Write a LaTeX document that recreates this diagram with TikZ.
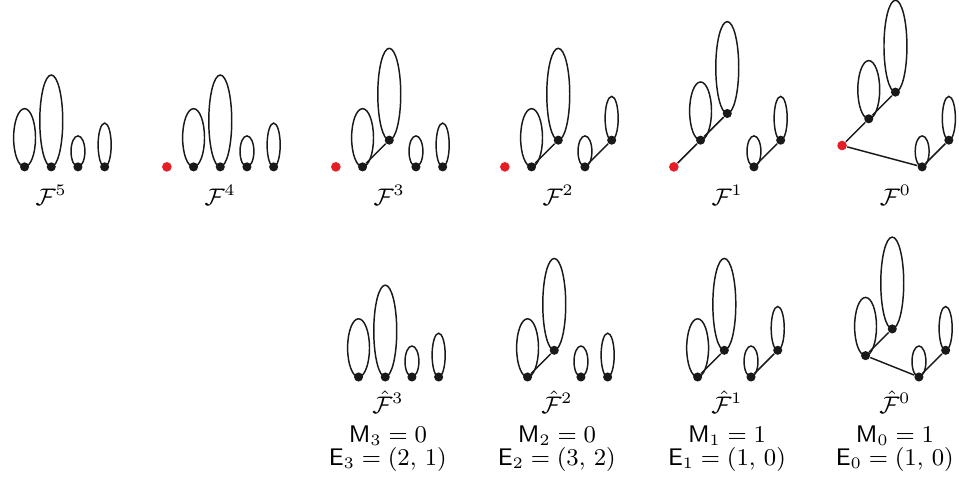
\documentclass[tikz,border=0pt]{standalone}
\usepackage{amsmath,amssymb}
\usetikzlibrary{positioning}
\definecolor{rootred}{RGB}{228,30,36}
\definecolor{vtxblack}{RGB}{25,25,25}
% four roots with their loops, #1 name, (#2,#3) origin, #4--#7 heights of the roots
\newcommand{\fourloops}[7]{%
  \node[bdot] (#1-1) at (#2+1,#3+#4) {};
  \node[bdot] (#1-2) at (#2+2,#3+#5) {};
  \node[bdot] (#1-3) at (#2+3,#3+#6) {};
  \node[bdot] (#1-4) at (#2+4,#3+#7) {};
  \draw[loopline] (#1-1.center) ++(0,1.09) ellipse (0.41 and 1.09);
  \draw[loopline] (#1-2.center) ++(0,1.72) ellipse (0.43 and 1.72);
  \draw[loopline] (#1-3.center) ++(0,0.58) ellipse (0.26 and 0.58);
  \draw[loopline] (#1-4.center) ++(0,0.82) ellipse (0.245 and 0.82);
}

\begin{document}
\begin{tikzpicture}[x=10pt, y=10pt,
    bdot/.style={circle, fill=vtxblack, inner sep=0pt, minimum size=3.4pt},
    rdot/.style={circle, fill=rootred, inner sep=0pt, minimum size=3.6pt},
    loopline/.style={vtxblack, line width=0.55pt},
    link/.style={vtxblack, line width=0.55pt},
    lbl/.style={font=\small, anchor=base, inner sep=0pt}]
  \useasboundingbox (0,0) rectangle (35.92,18.31);

  % top row
  \fourloops{f5}{-0.08}{12.06}{0}{0}{0}{0}
  \fourloops{f4}{6.25}{12.06}{0}{0}{0}{0}
  \node[rdot] (f4-r) at (6.25,12.06) {};
  \fourloops{f3}{12.58}{12.06}{0}{1}{0}{0}
  \node[rdot] (f3-r) at (12.58,12.06) {};
  \draw[link] (f3-1) -- (f3-2);
  \fourloops{f2}{18.91}{12.06}{0}{1}{0}{1}
  \node[rdot] (f2-r) at (18.91,12.06) {};
  \draw[link] (f2-1) -- (f2-2);
  \draw[link] (f2-3) -- (f2-4);
  \fourloops{f1}{25.24}{12.06}{1}{2}{0}{1}
  \node[rdot] (f1-r) at (25.24,12.06) {};
  \draw[link] (f1-r) -- (f1-1) -- (f1-2);
  \draw[link] (f1-3) -- (f1-4);
  \fourloops{f0}{31.54}{12.06}{1.8}{2.8}{0}{1}
  \node[rdot] (f0-r) at (31.54,12.86) {};
  \draw[link] (f0-r) -- (f0-1) -- (f0-2);
  \draw[link] (f0-r) -- (f0-3) -- (f0-4);

  \foreach \k/\ox in {5/-0.08, 4/6.25, 3/12.58, 2/18.91, 1/25.24, 0/31.54}
    \node[lbl] (lab\k) at (\ox+2,10.6) {$\mathcal{F}^{\k}$};

  % bottom row
  \fourloops{h3}{12.43}{4.19}{0}{0}{0}{0}
  \fourloops{h2}{18.76}{4.19}{0}{1}{0}{0}
  \draw[link] (h2-1) -- (h2-2);
  \fourloops{h1}{25.13}{4.19}{0}{1}{0}{1}
  \draw[link] (h1-1) -- (h1-2);
  \draw[link] (h1-3) -- (h1-4);
  \fourloops{h0}{31.42}{4.19}{0.8}{1.8}{0}{1}
  \draw[link] (h0-1) -- (h0-2);
  \draw[link] (h0-1) -- (h0-3) -- (h0-4);

  \foreach \k/\ox/\m/\e in {3/12.43/0/{(2,\,1)}, 2/18.76/0/{(3,\,2)},
                            1/25.13/1/{(1,\,0)}, 0/31.42/1/{(1,\,0)}} {
    \node[lbl] (hlab\k) at (\ox+2.1,2.82) {$\hat{\mathcal{F}}^{\k}$};
    \node[lbl] (mlab\k) at (\ox+2.1,1.74) {$\mathsf{M}_{\k} = \m$};
    \node[lbl] (elab\k) at (\ox+2.1,0.86) {$\mathsf{E}_{\k} = \e$};
  }
\end{tikzpicture}
\end{document}
